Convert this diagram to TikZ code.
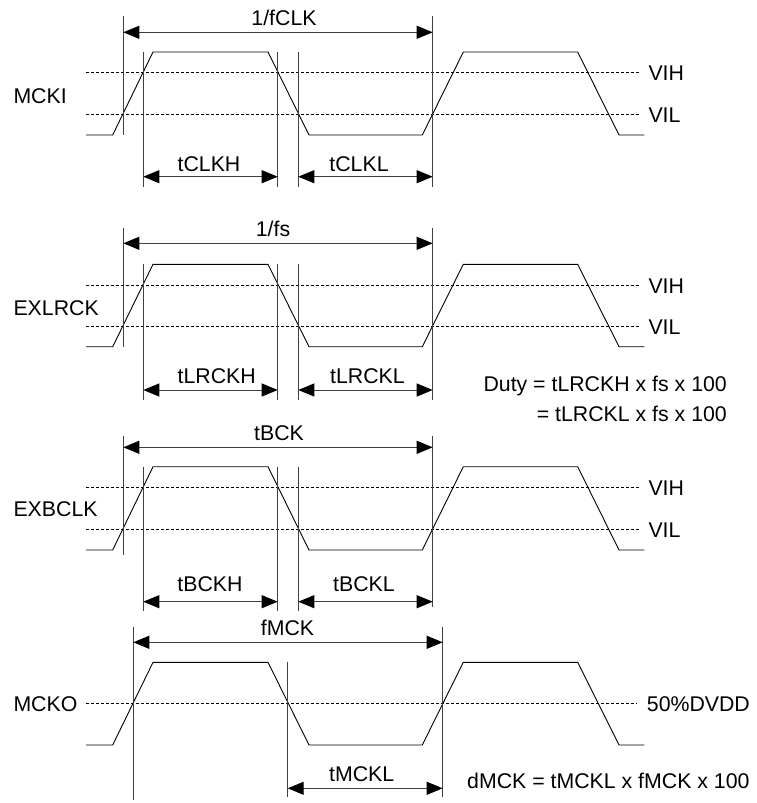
\documentclass[tikz,border=0pt]{standalone}
\usepackage{fontspec}
\setmainfont{Liberation Sans}
\usetikzlibrary{arrows.meta}

% one clock waveform: #1 = high level, #2 = low level
\newcommand{\clockwave}[2]{%
    \draw[wave] (86,#2) -- (112.7,#2) -- (153,#1) -- (268,#1) -- (309,#2)
        -- (422.3,#2) -- (463.3,#1) -- (577.7,#1) -- (619,#2) -- (644.3,#2);}

\begin{document}
\begin{tikzpicture}[x=1pt, y=-1pt,
    wave/.style={line width=0.9pt},
    level/.style={line width=0.8pt, dash pattern=on 3pt off 2pt},
    marker/.style={line width=0.9pt, black!75},
    dim/.style={line width=1pt, black!75,
        {Triangle[length=16pt,width=13pt,black]}-{Triangle[length=16pt,width=13pt,black]}},
    lbl/.style={font=\fontsize{21.3}{24}\selectfont, inner sep=0pt}]
    \useasboundingbox (0,0) rectangle (756,803);

    % MCKI
    \node[lbl, anchor=base west] (mcki) at (13.3,103.2) {MCKI};
    \draw[level] (86,72.7) -- (640,72.7);
    \draw[level] (86,114.3) -- (640,114.3);
    \node[lbl, anchor=base west] (vih1) at (648.3,80.6) {VIH};
    \node[lbl, anchor=base west] (vil1) at (648.3,122.4) {VIL};
    \clockwave{52}{135}
    % timing markers
    \coordinate (m1a) at (123.3,16);   \coordinate (m1b) at (123.3,135);
    \coordinate (m2a) at (143.3,52);   \coordinate (m2b) at (143.3,187);
    \coordinate (m3a) at (277.7,52);   \coordinate (m3b) at (277.7,187);
    \coordinate (m4a) at (298.3,52);   \coordinate (m4b) at (298.3,187);
    \coordinate (m5a) at (432.7,16);   \coordinate (m5b) at (432.7,187);
    \foreach \m in {m1,m2,m3,m4,m5} {
        \draw[marker] (\m a) -- (\m b);
    }
    \draw[dim] (m1a |- 0,32.3) -- (m5a |- 0,32.3);
    \draw[dim] (m2a |- 0,176.7) -- (m3a |- 0,176.7);
    \draw[dim] (m4a |- 0,176.7) -- (m5a |- 0,176.7);
    \node[lbl, anchor=base] (fclk) at (284,25) {1/fCLK};
    \node[lbl, anchor=base] (tclkh) at (209,171.7) {tCLKH};
    \node[lbl, anchor=base] (tclkl) at (359,171.7) {tCLKL};

    % EXLRCK
    \node[lbl, anchor=base west] (exlrck) at (13.3,315) {EXLRCK};
    \draw[level] (86,285) -- (640,285);
    \draw[level] (86,326.7) -- (640,326.7);
    \node[lbl, anchor=base west] (vih2) at (648.3,293.1) {VIH};
    \node[lbl, anchor=base west] (vil2) at (648.3,334.6) {VIL};
    \clockwave{264.3}{346.7}
    \coordinate (l1a) at (123.3,228.3); \coordinate (l1b) at (123.3,346.7);
    \coordinate (l2a) at (143.3,264.3); \coordinate (l2b) at (143.3,400);
    \coordinate (l3a) at (277.7,264.3); \coordinate (l3b) at (277.7,400);
    \coordinate (l4a) at (298.3,264.3); \coordinate (l4b) at (298.3,400);
    \coordinate (l5a) at (432.7,228.3); \coordinate (l5b) at (432.7,400);
    \foreach \m in {l1,l2,l3,l4,l5} {
        \draw[marker] (\m a) -- (\m b);
    }
    \draw[dim] (l1a |- 0,243.3) -- (l5a |- 0,243.3);
    \draw[dim] (l2a |- 0,390) -- (l3a |- 0,390);
    \draw[dim] (l4a |- 0,390) -- (l5a |- 0,390);
    \node[lbl, anchor=base] (fs) at (273,236.7) {1/fs};
    \node[lbl, anchor=base] (tlrckh) at (216.7,383.3) {tLRCKH};
    \node[lbl, anchor=base] (tlrckl) at (367.5,383.3) {tLRCKL};
    % duty formula
    \node[lbl, anchor=base east] (duty1) at (727,391.7) {Duty = tLRCKH x fs x 100};
    \node[lbl, anchor=base east] (duty2) at (727,421.7) {= tLRCKL x fs x 100};

    % EXBCLK
    \node[lbl, anchor=base west] (exbclk) at (13.3,516.7) {EXBCLK};
    \draw[level] (86,487.7) -- (640,487.7);
    \draw[level] (86,529) -- (640,529);
    \node[lbl, anchor=base west] (vih3) at (648.3,495.8) {VIH};
    \node[lbl, anchor=base west] (vil3) at (648.3,537.1) {VIL};
    \clockwave{466.7}{550}
    \coordinate (b1a) at (123.3,436);   \coordinate (b1b) at (123.3,555);
    \coordinate (b2a) at (143.3,466.7); \coordinate (b2b) at (143.3,610.7);
    \coordinate (b3a) at (277.7,466.7); \coordinate (b3b) at (277.7,610.7);
    \coordinate (b4a) at (298.3,466.7); \coordinate (b4b) at (298.3,610.7);
    \coordinate (b5a) at (432.7,436);   \coordinate (b5b) at (432.7,606.7);
    \foreach \m in {b1,b2,b3,b4,b5} {
        \draw[marker] (\m a) -- (\m b);
    }
    \draw[dim] (b1a |- 0,447.3) -- (b5a |- 0,447.3);
    \draw[dim] (b2a |- 0,601.7) -- (b3a |- 0,601.7);
    \draw[dim] (b4a |- 0,601.7) -- (b5a |- 0,601.7);
    \node[lbl, anchor=base] (tbck) at (279,440) {tBCK};
    \node[lbl, anchor=base] (tbckh) at (210,591.7) {tBCKH};
    \node[lbl, anchor=base] (tbckl) at (364,591.7) {tBCKL};

    % MCKO
    \node[lbl, anchor=base west] (mcko) at (13.3,711.3) {MCKO};
    \draw[level] (86,703.3) -- (636.7,703.3);
    \node[lbl, anchor=base west] (dvdd) at (646.7,711.3) {50\%DVDD};
    \clockwave{662.3}{745}
    \coordinate (o1a) at (133.3,626.7); \coordinate (o1b) at (133.3,800);
    \coordinate (o2a) at (287.7,662.3); \coordinate (o2b) at (287.7,796.7);
    \coordinate (o3a) at (442.7,626.7); \coordinate (o3b) at (442.7,796.7);
    \foreach \m in {o1,o2,o3} {
        \draw[marker] (\m a) -- (\m b);
    }
    \draw[dim] (o1a |- 0,642.3) -- (o3a |- 0,642.3);
    \draw[dim] (o2a |- 0,788.3) -- (o3a |- 0,788.3);
    \node[lbl, anchor=base] (fmck) at (287.5,635) {fMCK};
    \node[lbl, anchor=base] (tmckl) at (361.7,781.7) {tMCKL};
    \node[lbl, anchor=base west] (dmck) at (467,788.3) {dMCK = tMCKL x fMCK x 100};
\end{tikzpicture}
\end{document}
